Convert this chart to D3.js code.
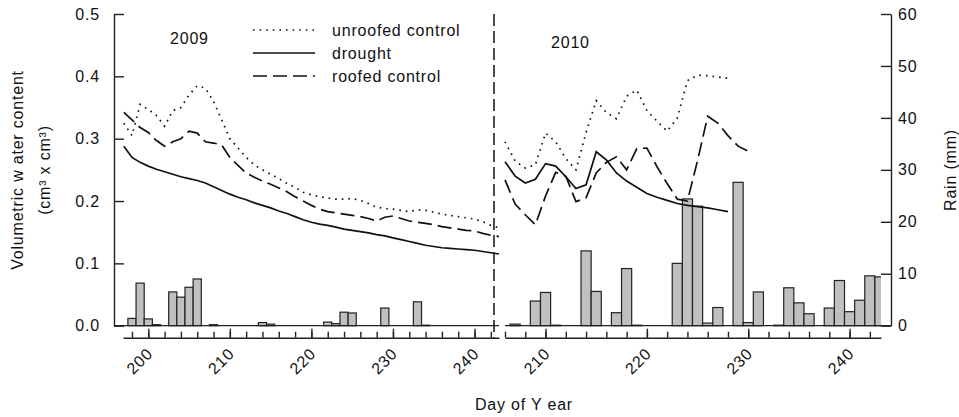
<!DOCTYPE html>
<html>
<head>
<meta charset="utf-8">
<script src="https://cdn.jsdelivr.net/npm/d3@7"></script>
<style>
  body { margin: 0; background: #fff; }
  svg text { font-family: "Liberation Sans", Arial, sans-serif; fill: #111; letter-spacing: 0.8px; }
</style>
</head>
<body>
<svg id="chart" width="959" height="417"></svg>
<script>
// ---- data ----
// 2009, day of year 197..243
var days2009 = [197,198,199,200,201,202,203,204,205,206,207,208,209,210,211,212,213,214,215,216,217,218,219,220,
                221,222,223,224,225,226,227,228,229,230,231,232,233,234,235,236,237,238,239,240,241,242,243];
var unroofed2009 = [0.325,0.305,0.355,0.347,0.337,0.320,0.345,0.350,0.370,0.385,0.381,0.360,0.330,0.300,0.285,0.270,
                    0.258,0.250,0.243,0.236,0.228,0.222,0.214,0.210,0.207,0.205,0.203,0.203,0.204,0.201,0.196,0.190,
                    0.188,0.187,0.185,0.183,0.186,0.185,0.182,0.179,0.177,0.175,0.173,0.171,0.167,0.161,0.157];
var drought2009 = [0.288,0.270,0.262,0.256,0.251,0.247,0.243,0.239,0.236,0.233,0.229,0.223,0.217,0.211,0.206,0.202,
                   0.197,0.193,0.189,0.184,0.180,0.175,0.170,0.166,0.163,0.161,0.158,0.155,0.153,0.151,0.149,0.146,
                   0.144,0.141,0.138,0.135,0.132,0.129,0.127,0.125,0.124,0.123,0.122,0.121,0.119,0.117,0.115];
var roofed2009 = [0.342,0.330,0.318,0.310,0.297,0.288,0.295,0.300,0.312,0.309,0.295,0.293,0.290,0.270,0.257,0.245,
                  0.238,0.232,0.227,0.221,0.215,0.207,0.200,0.193,0.187,0.183,0.181,0.179,0.177,0.175,0.172,0.168,
                  0.174,0.176,0.172,0.168,0.166,0.164,0.162,0.159,0.157,0.155,0.153,0.152,0.148,0.145,0.143];

// 2010, day of year 206..230
var days2010 = [206,207,208,209,210,211,212,213,214,215,216,217,218,219,220,221,222,223,224,225,226,227,228,229,230];
var unroofed2010 = [0.295,0.264,0.253,0.258,0.309,0.295,0.268,0.250,0.310,0.361,0.342,0.332,0.368,0.378,0.345,0.328,
                    0.312,0.333,0.393,0.402,0.401,0.399,0.397];
var drought2010 = [0.263,0.240,0.229,0.235,0.260,0.256,0.239,0.220,0.226,0.279,0.266,0.245,0.232,0.222,0.212,0.206,
                   0.201,0.196,0.193,0.191,0.189,0.186,0.183];
var roofed2010 = [0.234,0.195,0.178,0.162,0.208,0.246,0.240,0.199,0.205,0.245,0.262,0.271,0.250,0.284,0.285,0.255,
                  0.228,0.203,0.200,0.265,0.336,0.325,0.305,0.288,0.280];

// daily rain (mm)
var rainDays2009 = [198,199,200,201,203,204,205,206,208,214,215,222,223,224,225,229,233,234];
var rain2009     = [1.4,8.2,1.3,0.2,6.5,5.5,7.4,9.0,0.2,0.6,0.3,0.7,0.4,2.6,2.45,3.4,4.6,0.1];
var rainDays2010 = [207,209,210,211,214,215,217,218,219,223,224,225,226,227,229,230,231,233,234,235,236,238,239,240,241,242,243];
var rain2010     = [0.3,4.75,6.4,0.1,14.4,6.6,2.5,11.0,0.1,12.0,24.4,23.0,0.5,3.5,27.6,0.6,6.5,0.1,7.3,4.4,2.3,3.4,8.7,2.7,4.9,9.6,9.4];

var vwcTicks = [0, 0.1, 0.2, 0.3, 0.4, 0.5];
var rainTicks = [0, 10, 20, 30, 40, 50, 60];
var minorTicks2009 = [198,200,202,204,206,208,210,212,214,216,218,220,222,224,226,228,230,232,234,236,238,240,242];
var minorTicks2010 = [206,208,210,212,214,216,218,220,222,224,226,228,230,232,234,236,238,240,242];
var majorTicks2009 = [200, 210, 220, 230, 240];
var majorTicks2010 = [210, 220, 230, 240];

var seriesNames = ["unroofed control", "drought", "roofed control"];

// ---- layout ----
var svg = d3.select("#chart");
var yTop = 14, yBase = 325.7, xAxisY = 337.7;
var lx0 = 114, rx1 = 891;

var x2009 = d3.scaleLinear().domain([196.9, 243]).range([123, 499]);
var x2010 = d3.scaleLinear().domain([206, 243.1]).range([505, 881]);
var yV = d3.scaleLinear().domain([0, 0.5]).range([yBase, yTop]);
var yR = d3.scaleLinear().domain([0, 60]).range([yBase, yTop]);

var styles = {
  "unroofed control": { dash: "1.6,5", width: 1.7 },
  "drought": { dash: null, width: 1.7 },
  "roofed control": { dash: "14,6", width: 1.7 }
};

svg.append("clipPath").attr("id", "clip2010")
  .append("rect").attr("x", 505).attr("y", 0).attr("width", 376).attr("height", 340);

// rain bars
function bars(xs, days, vals, clip) {
  var w = xs(1) - xs(0);
  var g = svg.append("g");
  if (clip) g.attr("clip-path", "url(#" + clip + ")");
  g.selectAll("rect").data(days).enter().append("rect")
    .attr("x", function(d) { return xs(d - 0.5); })
    .attr("width", w)
    .attr("y", function(d, i) { return yR(vals[i]); })
    .attr("height", function(d, i) { return yBase - yR(vals[i]); })
    .attr("fill", "#c0c0c0")
    .attr("stroke", "#222")
    .attr("stroke-width", 1.2);
}
bars(x2009, rainDays2009, rain2009, null);
bars(x2010, rainDays2010, rain2010, "clip2010");

// zero baselines
svg.append("line").attr("x1", lx0).attr("x2", 499).attr("y1", yBase).attr("y2", yBase).attr("stroke", "#222").attr("stroke-width", 1.3);
svg.append("line").attr("x1", 505).attr("x2", rx1).attr("y1", yBase).attr("y2", yBase).attr("stroke", "#222").attr("stroke-width", 1.3);

// water content lines
function drawLine(xs, days, vals, name) {
  var st = styles[name];
  var pts = vals.map(function(v, i) { return [xs(days[i]), yV(v)]; });
  svg.append("path")
    .attr("d", d3.line()(pts))
    .attr("fill", "none")
    .attr("stroke", "#111")
    .attr("stroke-width", st.width)
    .attr("stroke-dasharray", st.dash);
}
drawLine(x2009, days2009, unroofed2009, "unroofed control");
drawLine(x2009, days2009, drought2009, "drought");
drawLine(x2009, days2009, roofed2009, "roofed control");
drawLine(x2010, days2010, unroofed2010, "unroofed control");
drawLine(x2010, days2010, drought2010, "drought");
drawLine(x2010, days2010, roofed2010, "roofed control");

// year divider
svg.append("line").attr("x1", 494).attr("x2", 494).attr("y1", yTop).attr("y2", xAxisY)
  .attr("stroke", "#111").attr("stroke-width", 1.5).attr("stroke-dasharray", "12,5");

// y axes
var leftAxis = svg.append("g").attr("transform", "translate(" + lx0 + ",0)")
  .call(d3.axisLeft(yV).tickValues(vwcTicks).tickFormat(d3.format(".1f")).tickSizeInner(-10).tickSizeOuter(0).tickPadding(14));
var rightAxis = svg.append("g").attr("transform", "translate(" + rx1 + ",0)")
  .call(d3.axisRight(yR).tickValues(rainTicks).tickSizeInner(-10).tickSizeOuter(0).tickPadding(7));
[leftAxis, rightAxis].forEach(function(a) {
  a.selectAll("path, line").attr("stroke", "#222").attr("stroke-width", 1.4);
  a.selectAll("text").attr("font-size", 16).attr("fill", "#111").attr("font-family", null);
});

// x axes
function xAxis(xs, minor, major) {
  var g = svg.append("g").attr("transform", "translate(0," + xAxisY + ")");
  g.call(d3.axisBottom(xs).tickValues(minor).tickFormat("").tickSizeInner(-6).tickSizeOuter(0));
  var m = svg.append("g").attr("transform", "translate(0," + xAxisY + ")");
  m.call(d3.axisBottom(xs).tickValues(major).tickFormat(d3.format("d")).tickSizeInner(-9).tickSizeOuter(0));
  m.select(".domain").remove();
  [g, m].forEach(function(a) {
    a.selectAll("path, line").attr("stroke", "#222").attr("stroke-width", 1.4);
  });
  m.selectAll("text")
    .attr("y", 0).attr("dy", null)
    .attr("font-size", 16).attr("font-family", null).attr("fill", "#111")
    .attr("text-anchor", "end")
    .attr("transform", "translate(5,17) rotate(-45)");
}
xAxis(x2009, minorTicks2009, majorTicks2009);
xAxis(x2010, minorTicks2010, majorTicks2010);

// axis titles
svg.append("text").attr("transform", "translate(23,170) rotate(-90)").attr("text-anchor", "middle")
  .attr("font-size", 16).text("Volumetric w ater content");
svg.append("text").attr("transform", "translate(50,170) rotate(-90)").attr("text-anchor", "middle")
  .attr("font-size", 16).text("(cm³ x cm³)");
svg.append("text").attr("transform", "translate(956,170) rotate(-90)").attr("text-anchor", "middle")
  .attr("font-size", 16).text("Rain (mm)");
svg.append("text").attr("x", 524).attr("y", 410).attr("text-anchor", "middle")
  .attr("font-size", 16).text("Day of Y ear");

// year labels
svg.append("text").attr("x", 170).attr("y", 44).attr("font-size", 16).text("2009");
svg.append("text").attr("x", 551).attr("y", 48).attr("font-size", 16).text("2010");

// legend
var legend = svg.append("g");
seriesNames.forEach(function(name, i) {
  var y = 30 + i * 23;
  var st = styles[name];
  legend.append("line").attr("x1", 253).attr("x2", 315).attr("y1", y).attr("y2", y)
    .attr("stroke", "#111").attr("stroke-width", st.width).attr("stroke-dasharray", st.dash);
  legend.append("text").attr("x", 332).attr("y", y).attr("dy", "0.36em").attr("font-size", 16).text(name);
});
</script>
</body>
</html>
